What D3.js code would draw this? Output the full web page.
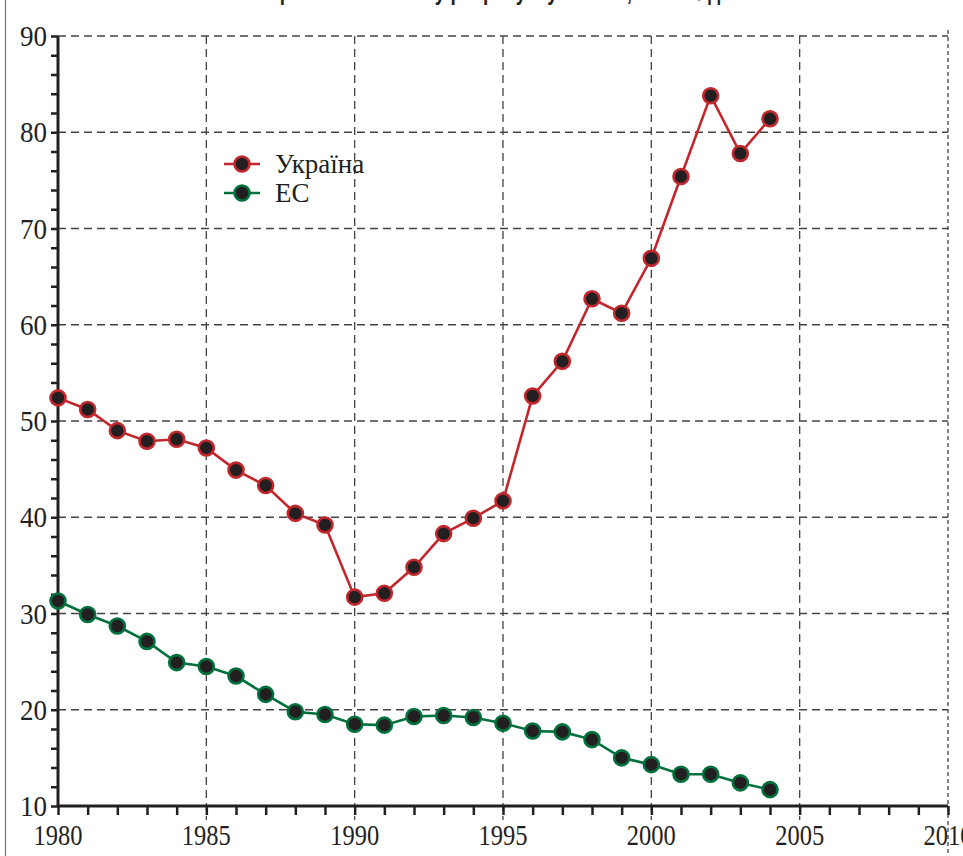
<!DOCTYPE html>
<html><head><meta charset="utf-8">
<script src="https://cdn.jsdelivr.net/npm/d3@7"></script>
<style>
html,body{margin:0;padding:0;background:#fff;}
svg{display:block;}
</style></head>
<body>
<svg id="chart" width="963" height="856"></svg>
<script>
const years = [1980,1981,1982,1983,1984,1985,1986,1987,1988,1989,1990,1991,1992,1993,1994,1995,1996,1997,1998,1999,2000,2001,2002,2003,2004];
const ukraine = [52.4,51.2,49.0,47.9,48.1,47.2,44.9,43.3,40.4,39.2,31.7,32.1,34.8,38.3,39.9,41.7,52.6,56.2,62.7,61.2,66.9,75.4,83.8,77.8,81.4];
const eu = [31.3,29.9,28.7,27.1,24.9,24.5,23.5,21.6,19.8,19.5,18.5,18.4,19.3,19.4,19.2,18.6,17.8,17.7,16.9,15.0,14.3,13.3,13.3,12.4,11.7];
const seriesNames = ["Україна","ЕС"];
const xTicks = [1980,1985,1990,1995,2000,2005,2010];
const yTicks = [10,20,30,40,50,60,70,80,90];
const titleText = "Енергоємність ВВП у розрахунку за ПКС, кг н.е. / дол. ВВП";

const svg = d3.select("#chart");
const x = d3.scaleLinear().domain([1980,2010]).range([58,948]);
const y = d3.scaleLinear().domain([10,90]).range([806,36]);
const red = "#c1272d", green = "#00703c", dot = "#231f20";

// left frame line
svg.append("line").attr("x1",5.5).attr("x2",5.5).attr("y1",0).attr("y2",856)
  .attr("stroke","#777").attr("stroke-width",1.2);

// title (cut off at top edge, only descenders visible)
svg.append("text").attr("x",520).attr("y",0).attr("text-anchor","middle")
  .attr("font-family","Liberation Sans, Arial, sans-serif").attr("font-weight","bold")
  .attr("font-size",26).attr("fill","#231f20")
  .attr("textLength",550).attr("lengthAdjust","spacingAndGlyphs").text(titleText);

// grid
const grid = svg.append("g").attr("stroke","#444").attr("stroke-width",1.3).attr("stroke-dasharray","8,5");
grid.selectAll(".gy").data(yTicks.filter(d=>d>10)).join("line")
  .attr("x1",x(1980)).attr("x2",x(2010)).attr("y1",d=>y(d)).attr("y2",d=>y(d));
grid.selectAll(".gx").data(xTicks.filter(d=>d>1980 && d<2010)).join("line")
  .attr("x1",d=>x(d)).attr("x2",d=>x(d)).attr("y1",y(90)).attr("y2",y(10)+14);
svg.append("line").attr("x1",x(2010)).attr("x2",x(2010)).attr("y1",30).attr("y2",856)
  .attr("stroke","#333").attr("stroke-width",1.2).attr("stroke-dasharray","4,3");

// axes
const yAxis = d3.axisLeft(y).tickValues(d3.range(10,90.1,2)).tickSize(7).tickFormat("");
const gy = svg.append("g").attr("transform",`translate(${x(1980)},0)`).call(yAxis);
gy.select(".domain").attr("stroke","#231f20").attr("stroke-width",3).attr("d",`M0,${y(90)}V${y(10)}`);
gy.selectAll(".tick line").attr("stroke","#231f20").attr("stroke-width",2.5);

const xAxis = d3.axisBottom(x).tickValues(d3.range(1980,2010.1,1)).tickSize(9).tickFormat("");
const gx = svg.append("g").attr("transform",`translate(0,${y(10)})`).call(xAxis);
gx.select(".domain").attr("stroke","#231f20").attr("stroke-width",3).attr("d",`M${x(1980)},0H${x(2010)}`);
gx.selectAll(".tick line").attr("stroke","#231f20").attr("stroke-width",2.5);

// tick labels
const lblFont = "Liberation Serif, Times New Roman, serif";
svg.append("g").selectAll("text").data(yTicks).join("text")
  .attr("x",47).attr("y",d=>y(d)+10).attr("text-anchor","end")
  .attr("font-family",lblFont).attr("font-size",30).attr("fill","#231f20")
  .attr("textLength",27).attr("lengthAdjust","spacingAndGlyphs").text(d=>d);
svg.append("g").selectAll("text").data(xTicks).join("text")
  .attr("x",d=>x(d)).attr("y",845).attr("text-anchor","middle")
  .attr("font-family",lblFont).attr("font-size",30).attr("fill","#231f20")
  .attr("textLength",49).attr("lengthAdjust","spacingAndGlyphs").text(d=>d);

// lines
const line = d3.line().x((d,i)=>x(years[i])).y(d=>y(d));
function drawSeries(vals,color){
  svg.append("path").datum(vals).attr("d",line).attr("fill","none")
    .attr("stroke",color).attr("stroke-width",2.6);
  svg.append("g").selectAll("circle").data(vals).join("circle")
    .attr("cx",(d,i)=>x(years[i])).attr("cy",d=>y(d)).attr("r",7.5)
    .attr("fill",dot).attr("stroke",color).attr("stroke-width",2.6);
}
drawSeries(ukraine,red);
drawSeries(eu,green);

// legend
const leg = svg.append("g");
[[seriesNames[0],red,164],[seriesNames[1],green,193]].forEach(([name,color,ly])=>{
  leg.append("line").attr("x1",224).attr("x2",260).attr("y1",ly).attr("y2",ly)
    .attr("stroke",color).attr("stroke-width",2.6);
  leg.append("circle").attr("cx",242).attr("cy",ly).attr("r",7.5)
    .attr("fill",dot).attr("stroke",color).attr("stroke-width",2.6);
  leg.append("text").attr("x",275).attr("y",ly+9).attr("font-family",lblFont)
    .attr("font-size",27).attr("fill","#231f20").text(name);
});
</script>
</body></html>
